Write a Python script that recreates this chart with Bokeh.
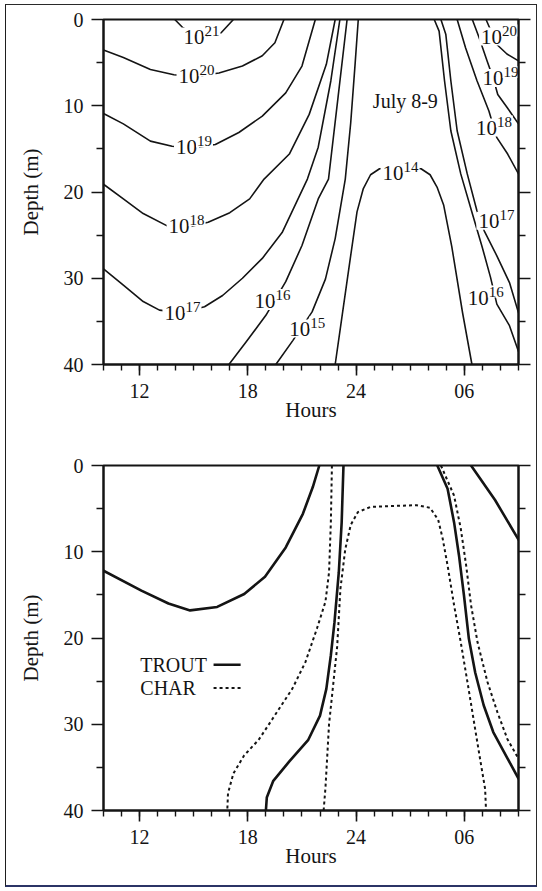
from bokeh.plotting import figure
from bokeh.models import LinearAxis, FixedTicker, Range1d, ColumnDataSource
from bokeh.layouts import column
from bokeh.embed import file_html
from bokeh.resources import INLINE
from bokeh.core.properties import value

# ---------------- data ----------------
hour_ticks = [12, 18, 24, 30]
hour_labels = ["12", "18", "24", "06"]
hour_minor = list(range(10, 34))
depth_ticks = [0, 10, 20, 30, 40]
depth_minor = [5, 15, 25, 35]

# top panel: irradiance isolines (hours; 30 = 06 next day), depth in m
c21_h = [13.95, 14.4, 15.4, 16.52, 17.2]
c21_d = [0, 0.96, 2.0, 1.54, 0]
c20a_h = [10, 11.1, 12.6, 13.9, 15.1, 16.4, 17.7, 18.8, 19.5, 20.0]
c20a_d = [3.55, 4.4, 5.8, 6.4, 6.6, 6.2, 5.4, 4.2, 2.7, 0]
c19a_h = [10, 11.1, 12.6, 13.8, 15.0, 16.2, 17.5, 18.8, 20.1, 21.0, 21.74]
c19a_d = [10.9, 12.1, 14.1, 14.7, 14.9, 14.5, 13.1, 11.2, 8.5, 5.4, 0]
c18a_h = [10, 11.1, 12.2, 13.5, 14.6, 15.8, 17.0, 18.1, 18.9, 20.3, 21.4, 22.35, 22.84]
c18a_d = [19.1, 20.8, 22.5, 23.9, 24.1, 23.5, 22.4, 20.8, 18.5, 15.6, 11.0, 5.2, 0]
c17a_h = [10, 11.1, 12.2, 13.1, 14.3, 15.6, 16.6, 17.7, 18.8, 19.9, 20.6, 21.3, 21.9, 22.6, 23.1]
c17a_d = [28.9, 30.8, 32.7, 33.7, 34.0, 33.3, 32.0, 30.0, 27.7, 24.7, 21.6, 18.5, 14.8, 7.1, 0]
c16a_h = [16.95, 17.9, 19.0, 20.1, 21.0, 21.9, 22.47, 23.0, 23.5]
c16a_d = [40, 37.4, 34.3, 30.4, 26.2, 20.8, 18.5, 9.0, 0]
c15a_h = [19.55, 20.5, 21.56, 22.3, 22.84, 23.4, 23.7, 23.95, 24.12]
c15a_d = [40, 37.2, 33.9, 30.1, 25.4, 18.5, 12.0, 5.0, 0]
c14_h = [22.84, 23.2, 23.65, 24.05, 24.4, 24.8, 25.3, 26.4, 27.6, 28.1, 28.5, 28.85, 29.3, 29.9, 30.42]
c14_d = [40, 34.7, 28.1, 22.3, 19.6, 18.0, 17.3, 17.2, 17.3, 18.0, 19.5, 21.5, 26.3, 34.0, 40]
c16b_h = [28.33, 28.6, 28.9, 29.25, 29.8, 30.44, 30.99, 31.45, 31.8, 32.5, 33]
c16b_d = [0, 1.35, 7.1, 12.9, 17.9, 22.5, 26.4, 29.9, 33.0, 35.5, 38.5]
c17b_h = [28.7, 28.97, 29.25, 29.6, 30.16, 30.7, 31.1, 31.8, 32.5, 33]
c17b_d = [0, 1.7, 7.1, 12.9, 17.9, 22.2, 24.5, 27.4, 30.5, 34.0]
c18b_h = [29.6, 30.07, 30.7, 31.36, 31.8, 32.4, 33]
c18b_d = [0, 3.3, 7.1, 10.6, 13.7, 15.6, 17.9]
c19b_h = [30.44, 30.8, 31.26, 31.6, 31.85, 32.4, 33]
c19b_d = [0, 2.0, 4.8, 6.8, 8.7, 10.3, 12.1]
c20b_h = [31.2, 31.8, 32.36, 33]
c20b_d = [0, 2.9, 4.0, 4.8]

label_h = [15.37, 15.1, 14.96, 14.55, 14.32, 19.31, 21.24, 26.41, 31.87, 31.95, 31.58, 31.72, 31.13]
label_d = [1.75, 6.36, 14.6, 23.75, 33.8, 32.4, 35.6, 17.55, 1.75, 6.55, 12.3, 23.1, 32.0]
label_exp = ["21", "20", "19", "18", "17", "16", "15", "14", "20", "19", "18", "17", "16"]
panel_note = "July 8-9"

# bottom panel: TROUT (solid) and CHAR (dashed) isolines
trout1_h = [10, 12.1, 13.6, 14.8, 16.3, 17.8, 18.95, 20.1, 21.05, 21.6, 21.96]
trout1_d = [12.2, 14.5, 16.0, 16.8, 16.4, 14.9, 12.9, 9.5, 5.6, 2.5, 0]
trout2_h = [23.3, 23.2, 23.04, 22.8, 22.6, 22.35, 22.0, 21.35, 20.3, 19.4, 19.05, 19.0]
trout2_d = [0, 6.6, 12.4, 18.2, 22.0, 25.9, 29.0, 31.8, 34.3, 36.6, 38.5, 40]
trout3_h = [28.5, 29.07, 29.43, 29.7, 29.98, 30.25, 30.6, 31.07, 31.6, 32.35, 33]
trout3_d = [0, 2.7, 6.6, 10.4, 15.1, 20.1, 24.0, 27.8, 30.9, 33.8, 36.3]
trout4_h = [30.37, 31.7, 33]
trout4_d = [0, 4.0, 8.6]
char1_h = [22.66, 22.6, 22.5, 22.3, 21.83, 21.19, 20.46, 19.36, 18.6, 17.8, 17.2, 16.9, 16.86]
char1_d = [0, 6.6, 12.4, 15.8, 18.9, 22.8, 25.9, 29.4, 31.8, 33.6, 35.7, 38.0, 40]
char2_h = [22.2, 22.3, 22.5, 22.95, 23.13, 23.4, 23.7, 24.1, 24.8, 26.0, 27.35, 28.1,
           28.55, 28.8, 29.07, 29.43, 29.8, 30.17, 30.53, 30.9, 31.15, 31.2]
char2_d = [40, 37.4, 30, 21, 14.3, 9.7, 6.9, 5.4, 4.8, 4.7, 4.6, 4.9,
           6.3, 8.5, 11.6, 16.2, 20.5, 25.1, 29.7, 34.4, 37.5, 40]
char3_h = [28.7, 29.43, 29.8, 30.1, 30.37, 30.73, 31.28, 31.83, 32.38, 33]
char3_d = [0, 3.5, 7.3, 11.6, 16.2, 20.5, 25.1, 28.6, 31.7, 34.0]
legend_names = ["TROUT", "CHAR"]

# ---------------- style ----------------
FONT = "Liberation Serif"
INK = "#141414"


def panel(min_left, min_right, min_top, min_bottom):
    p = figure(width=530, height=440, x_range=Range1d(10, 33), y_range=Range1d(40, 0),
               output_backend="svg", toolbar_location=None,
               min_border_left=min_left, min_border_right=min_right,
               min_border_top=min_top, min_border_bottom=min_bottom,
               background_fill_color="white", border_fill_color="white")
    p.xgrid.visible = False
    p.ygrid.visible = False
    p.outline_line_color = INK
    p.outline_line_width = 2

    xa = p.xaxis[0]
    xa.ticker = FixedTicker(ticks=hour_ticks, minor_ticks=hour_minor)
    xa.major_label_overrides = {t: s for t, s in zip(hour_ticks, hour_labels)}
    xa.axis_label = "Hours"
    xa.major_tick_out = 11
    xa.major_tick_in = 0
    xa.minor_tick_out = 6
    xa.minor_tick_in = 0
    xa.major_label_standoff = 8
    xa.axis_label_standoff = -3

    ya = p.yaxis[0]
    ya.ticker = FixedTicker(ticks=depth_ticks, minor_ticks=depth_minor)
    ya.axis_label = "Depth (m)"
    ya.major_tick_out = 12
    ya.major_tick_in = 0
    ya.minor_tick_out = 7
    ya.minor_tick_in = 0
    ya.major_label_standoff = 8
    ya.axis_label_standoff = 18

    ra = LinearAxis(ticker=FixedTicker(ticks=depth_ticks, minor_ticks=depth_minor))
    ra.major_label_overrides = {t: "" for t in depth_ticks}
    ra.major_label_text_font_size = "0px"
    ra.major_label_standoff = 0
    ra.major_tick_out = 12
    ra.major_tick_in = 0
    ra.minor_tick_out = 7
    ra.minor_tick_in = 0
    p.add_layout(ra, "right")

    for ax in (xa, ya, ra):
        ax.axis_line_color = INK
        ax.axis_line_width = 2
        ax.major_tick_line_color = INK
        ax.major_tick_line_width = 1.6
        ax.minor_tick_line_color = INK
        ax.minor_tick_line_width = 1.4
        ax.major_label_text_font = FONT
        ax.major_label_text_color = INK
        ax.axis_label_text_font = FONT
        ax.axis_label_text_font_style = "normal"
        ax.axis_label_text_color = INK
    for ax in (xa, ya):
        ax.major_label_text_font_size = "20px"
        ax.axis_label_text_font_size = "21px"
    return p


# ---------------- top panel ----------------
p1 = panel(97, 14, 14, 81)
contours = [(c21_h, c21_d), (c20a_h, c20a_d), (c19a_h, c19a_d), (c18a_h, c18a_d),
            (c17a_h, c17a_d), (c16a_h, c16a_d), (c15a_h, c15a_d), (c14_h, c14_d),
            (c16b_h, c16b_d), (c17b_h, c17b_d), (c18b_h, c18b_d), (c19b_h, c19b_d),
            (c20b_h, c20b_d)]
for hh, dd in contours:
    p1.line(hh, dd, line_color=INK, line_width=1.6, line_join="round", line_cap="round")

lab_src = ColumnDataSource(dict(h=label_h, d=label_d, base=["10"] * len(label_h), exp=label_exp))
p1.text(x="h", y="d", text="base", source=lab_src, text_font=value(FONT),
        text_font_size="21px", text_color=INK, text_align="left", text_baseline="middle",
        x_offset=-19, y_offset=2, background_fill_color="white", padding=2)
p1.text(x="h", y="d", text="exp", source=lab_src, text_font=value(FONT),
        text_font_size="15px", text_color=INK, text_align="left", text_baseline="middle",
        x_offset=3, y_offset=-4, background_fill_color="white", padding=1)
p1.text(x=[26.73], y=[9.4], text=[panel_note], text_font=value(FONT), text_font_size="20px",
        text_color=INK, text_align="center", text_baseline="middle")

# ---------------- bottom panel ----------------
p2 = panel(94, 18, 20, 75)
for hh, dd in [(trout1_h, trout1_d), (trout2_h, trout2_d), (trout3_h, trout3_d), (trout4_h, trout4_d)]:
    p2.line(hh, dd, line_color=INK, line_width=2.6, line_join="round", line_cap="round")
for hh, dd in [(char1_h, char1_d), (char2_h, char2_d), (char3_h, char3_d)]:
    p2.line(hh, dd, line_color=INK, line_width=2, line_dash="3 3")

# hand-made legend: text followed by line sample
p2.text(x=[12.04, 12.04], y=[23.1, 25.8], text=legend_names, text_font=value(FONT),
        text_font_size="20px", text_color=INK, text_align="left", text_baseline="middle")
p2.line([16.1, 17.6], [23.1, 23.1], line_color=INK, line_width=2.6)
p2.line([16.1, 17.6], [25.8, 25.8], line_color=INK, line_width=2, line_dash="3 3")

layout = column(p1, p2, margin=(4, 0, 0, 5),
                styles={"border-top": "1.5px solid #2a2a2a", "border-left": "1.5px solid #1e1e1e",
                        "border-right": "1.5px solid #2a2a2a", "border-bottom": "2px solid #2b3466"})

open("out.html", "w").write(file_html(layout, INLINE))
